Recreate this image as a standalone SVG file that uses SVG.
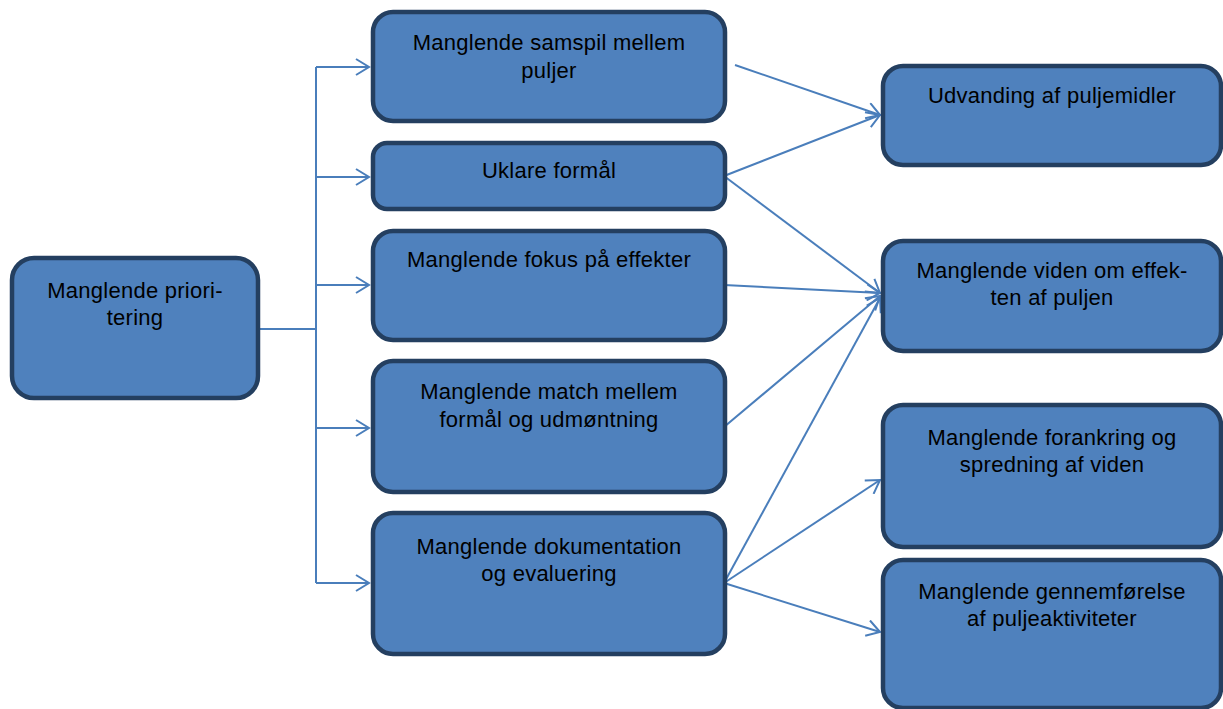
<svg xmlns="http://www.w3.org/2000/svg" width="1223" height="709" viewBox="0 0 1223 709">
<defs>
<style>
.box{fill:#4f81bd;stroke:#243f60;stroke-width:4.5}
.t{font-family:"Liberation Sans",Arial,sans-serif;font-size:22px;letter-spacing:0.25px;fill:#000;text-anchor:middle}
.c{fill:none;stroke:#4a7ebb;stroke-width:2}
</style>
<marker id="a" markerWidth="18" markerHeight="18" refX="14" refY="9" orient="auto" markerUnits="userSpaceOnUse">
<path d="M1,1 L14,9 L1,17" fill="none" stroke="#4a7ebb" stroke-width="2"/>
</marker>
</defs>
<rect width="1223" height="709" fill="#fff"/>
<g id="connectors">
<path class="c" d="M257,329 H316"/>
<path class="c" d="M316,67 V583"/>
<path class="c" d="M316,67 H369" marker-end="url(#a)"/>
<path class="c" d="M316,177 H369" marker-end="url(#a)"/>
<path class="c" d="M316,285 H369" marker-end="url(#a)"/>
<path class="c" d="M316,428 H369" marker-end="url(#a)"/>
<path class="c" d="M316,583 H369" marker-end="url(#a)"/>
<path class="c" d="M735,65 L880,115" marker-end="url(#a)"/>
<path class="c" d="M724,176 L880,115" marker-end="url(#a)"/>
<path class="c" d="M724,176 L880,293" marker-end="url(#a)"/>
<path class="c" d="M724,285 L880,293" marker-end="url(#a)"/>
<path class="c" d="M724,427 L880,296" marker-end="url(#a)"/>
<path class="c" d="M724,583 L880,298" marker-end="url(#a)"/>
<path class="c" d="M724,583 L880,480" marker-end="url(#a)"/>
<path class="c" d="M724,583 L880,632" marker-end="url(#a)"/>
</g>
<g id="n0"><rect class="box" x="12" y="258" width="246" height="140" rx="22"/><text class="t" x="135" y="298">Manglende priori-</text><text class="t" x="135" y="325">tering</text></g>
<g id="n1"><rect class="box" x="373" y="12" width="352" height="109" rx="20"/><text class="t" x="549" y="50">Manglende samspil mellem</text><text class="t" x="549" y="78">puljer</text></g>
<g id="n2"><rect class="box" x="373" y="143" width="352" height="66" rx="14"/><text class="t" x="549" y="178">Uklare formål</text></g>
<g id="n3"><rect class="box" x="373" y="231" width="352" height="109" rx="20"/><text class="t" x="549" y="267">Manglende fokus på effekter</text></g>
<g id="n4"><rect class="box" x="373" y="361" width="352" height="131" rx="20"/><text class="t" x="549" y="399">Manglende match mellem</text><text class="t" x="549" y="427">formål og udmøntning</text></g>
<g id="n5"><rect class="box" x="373" y="513" width="352" height="141" rx="20"/><text class="t" x="549" y="554">Manglende dokumentation</text><text class="t" x="549" y="581">og evaluering</text></g>
<g id="r1"><rect class="box" x="883" y="66" width="338" height="99" rx="20"/><text class="t" x="1052" y="103">Udvanding af puljemidler</text></g>
<g id="r2"><rect class="box" x="883" y="241" width="338" height="110" rx="20"/><text class="t" x="1052" y="278">Manglende viden om effek-</text><text class="t" x="1052" y="305">ten af puljen</text></g>
<g id="r3"><rect class="box" x="883" y="405" width="338" height="142" rx="20"/><text class="t" x="1052" y="445">Manglende forankring og</text><text class="t" x="1052" y="472">spredning af viden</text></g>
<g id="r4"><rect class="box" x="883" y="560" width="338" height="148" rx="20"/><text class="t" x="1052" y="599">Manglende gennemførelse</text><text class="t" x="1052" y="626">af puljeaktiviteter</text></g>
</svg>
